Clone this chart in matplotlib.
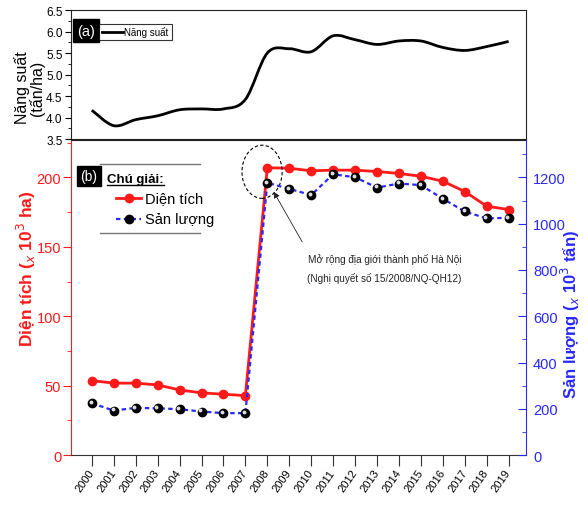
import matplotlib
matplotlib.use("Agg")
import matplotlib.pyplot as plt
from matplotlib.path import Path
from matplotlib.patches import PathPatch, Ellipse
from matplotlib.ticker import MultipleLocator
from matplotlib.transforms import offset_copy
import numpy as np

# data
years = list(range(2000, 2020))
nang_suat = [4.17, 3.81, 3.95, 4.04, 4.18, 4.20, 4.20, 4.42, 5.50, 5.60,
             5.53, 5.90, 5.81, 5.70, 5.78, 5.78, 5.63, 5.56, 5.65, 5.77]
dien_tich = [53.6, 51.8, 51.8, 50.5, 46.9, 44.8, 43.8, 42.8, 207.0, 206.7,
             204.8, 205.3, 205.3, 204.3, 202.9, 200.9, 197.3, 189.9, 179.3, 176.9]
san_luong = [224, 192, 204, 202, 198, 188, 181, 181, 1177, 1151,
             1124, 1214, 1201, 1156, 1174, 1167, 1108, 1053, 1023, 1026]
left_ticks = [0, 50, 100, 150, 200]
right_ticks = [0, 200, 400, 600, 800, 1000, 1200]
top_ticks = [3.5, 4.0, 4.5, 5.0, 5.5, 6.0, 6.5]

SANS = ["Liberation Sans", "DejaVu Sans"]
plt.rcParams["font.family"] = SANS

RED = "#ff1a1a"
BLUE = "#2828ff"


def smooth_path(xs, ys):
    # Catmull-Rom through the points, drawn as cubic bezier segments
    pts = np.column_stack([xs, ys]).astype(float)
    ext = np.vstack([pts[0], pts, pts[-1]])
    verts = [pts[0]]
    codes = [Path.MOVETO]
    for i in range(len(pts) - 1):
        p0, p1, p2, p3 = ext[i], ext[i + 1], ext[i + 2], ext[i + 3]
        verts += [p1 + (p2 - p0) / 6, p2 - (p3 - p1) / 6, p2]
        codes += [Path.CURVE4] * 3
    return Path(verts, codes)


fig = plt.figure(figsize=(5.88, 5.06), dpi=100)
ax_top = fig.add_axes([0.1207, 0.7233, 0.7738, 0.2549])
ax = fig.add_axes([0.1207, 0.0988, 0.7738, 0.6225])
ax_r = ax.twinx()

# ---- panel (a)
ax_top.add_patch(PathPatch(smooth_path(years, nang_suat), fill=False, color="black", lw=2))
ax_top.plot([], [], color="black", lw=2, label="Năng suất")
ax_top.set_xlim(1999.05, 2019.79)
ax_top.set_ylim(3.5, 6.5)
ax_top.set_xticks(years)
ax_top.set_xticklabels([])
ax_top.set_yticks(top_ticks)
ax_top.set_yticklabels([f"{t:.1f}" for t in top_ticks], fontsize=8.5)
ax_top.yaxis.set_minor_locator(MultipleLocator(0.25))
ax_top.tick_params(axis="x", direction="out", length=4, color="#333333")
ax_top.tick_params(axis="y", which="major", direction="out", length=4, pad=2)
ax_top.tick_params(axis="y", which="minor", direction="out", length=2)
for s in ax_top.spines.values():
    s.set_color("#222222")
leg = ax_top.legend(loc="upper left", bbox_to_anchor=(0.062, 0.895), frameon=True,
                    fancybox=False, edgecolor="black", handlelength=2.2, handletextpad=0.1,
                    borderpad=0.3, borderaxespad=0, prop={"size": 7})
leg.get_frame().set_linewidth(0.8)
ax_top.text(0.033, 0.84, "(a)", transform=ax_top.transAxes, color="white", fontsize=10.5,
            ha="center", va="center",
            bbox=dict(boxstyle="square,pad=0.3", facecolor="black", edgecolor="black"))
fig.text(0.05, 0.826, "Năng suất\n(tấn/ha)", rotation=90, ha="center", va="center",
         fontsize=11.5, linespacing=0.95)

# ---- panel (b)
ax.plot(years, dien_tich, color=RED, lw=2, marker="o", ms=6, mfc=RED, mec=RED, zorder=3)
ax_r.plot(years, san_luong, color=BLUE, lw=1.6, ls=(0, (2, 1.5)), marker="o", ms=6,
          mfc="black", mec="black", zorder=3)
hl = offset_copy(ax_r.transData, fig=fig, x=-1.2, y=1.2, units="dots")
ax_r.plot(years, san_luong, ls="none", marker="o", ms=1.8, color="#dddddd", transform=hl, zorder=4)

ax.set_xlim(1999.05, 2019.79)
ax.set_ylim(0, 227)
ax_r.set_ylim(0, 1362)

ax.set_xticks(years)
ax.set_xticklabels([str(y) for y in years], rotation=55, ha="right", va="center",
                   rotation_mode="anchor", fontsize=8)
ax.tick_params(axis="x", direction="out", length=8, color="#333333", pad=3)

ax.set_yticks(left_ticks)
ax.set_yticklabels([str(t) for t in left_ticks], fontsize=10.5)
ax.yaxis.set_minor_locator(MultipleLocator(25))
ax.tick_params(axis="y", which="major", colors=RED, direction="out", length=6, pad=1)
ax.tick_params(axis="y", which="minor", colors=RED, direction="out", length=3)

ax_r.set_yticks(right_ticks)
ax_r.set_yticklabels([str(t) for t in right_ticks], fontsize=10.5)
ax_r.yaxis.set_minor_locator(MultipleLocator(100))
ax_r.tick_params(axis="y", which="major", colors=BLUE, direction="in", length=6, pad=5)
ax_r.tick_params(axis="y", which="minor", colors=BLUE, direction="in", length=3)

ax.spines["left"].set_color(RED)
ax.spines["right"].set_visible(False)
ax.spines["top"].set_color("#222222")
ax.spines["bottom"].set_color("#333333")
ax_r.spines["left"].set_visible(False)
ax_r.spines["top"].set_visible(False)
ax_r.spines["bottom"].set_visible(False)
ax_r.spines["right"].set_color(BLUE)

fig.text(0.045, 0.468, "Diện tích ($_{x}$ 10$^{3}$ ha)", rotation=90, ha="center", va="center",
         color=RED, fontsize=12.5, fontweight="bold")
fig.text(0.971, 0.379, "Sản lượng ($_{x}$ 10$^{3}$ tấn)", rotation=90, ha="center", va="center",
         color=BLUE, fontsize=12, fontweight="bold")

# legend block
ax.text(0.0396, 0.887, "(b)", transform=ax.transAxes, color="white", fontsize=10,
        ha="center", va="center",
        bbox=dict(boxstyle="square,pad=0.22", facecolor="black", edgecolor="black"))
for yy in (0.924, 0.705):
    ax.plot([0.064, 0.2835], [yy, yy], transform=ax.transAxes, color="#777777", lw=1, clip_on=False)
cg = ax.text(0.08, 0.875, "Chú giải:", transform=ax.transAxes, fontsize=9.5,
             fontweight="bold", ha="left", va="center")
ax.plot([0.098, 0.155], [0.817, 0.817], transform=ax.transAxes, color=RED, lw=2)
ax.plot([0.127], [0.817], transform=ax.transAxes, color=RED, marker="o", ms=6)
ax.text(0.163, 0.817, "Diện tích", transform=ax.transAxes, fontsize=10.5, va="center")
ax.plot([0.098, 0.155], [0.75, 0.75], transform=ax.transAxes, color=BLUE, lw=1.6,
        ls=(0, (2, 1.5)))
ax.plot([0.127], [0.75], transform=ax.transAxes, color="black", marker="o", ms=6)
ax.text(0.163, 0.75, "Sản lượng", transform=ax.transAxes, fontsize=10.5, va="center")

fig.canvas.draw()
bb = cg.get_window_extent().transformed(ax.transAxes.inverted())
ax.plot([bb.x0, bb.x1], [bb.y0 + 0.002, bb.y0 + 0.002], transform=ax.transAxes,
        color="black", lw=1)

# annotation about the 2008 boundary change
ax.add_patch(Ellipse((2007.76, 204.1), 1.83, 38.3, fill=False, ls=(0, (3, 2)),
                     lw=0.8, color="black", zorder=5))
ax.annotate("", xy=(2008.29, 189.7), xytext=(2009.59, 153.6),
            arrowprops=dict(arrowstyle="-|>", color="#222222", lw=0.6,
                            mutation_scale=9, shrinkA=0, shrinkB=0), zorder=6)
ax.text(2013.35, 134.6, "Mở rộng địa giới thành phố Hà Nội\n(Nghị quyết số 15/2008/NQ-QH12)",
        ha="center", va="center", fontsize=7.2, linespacing=1.9, color="#222222")

fig.savefig("out.png", dpi=100)
